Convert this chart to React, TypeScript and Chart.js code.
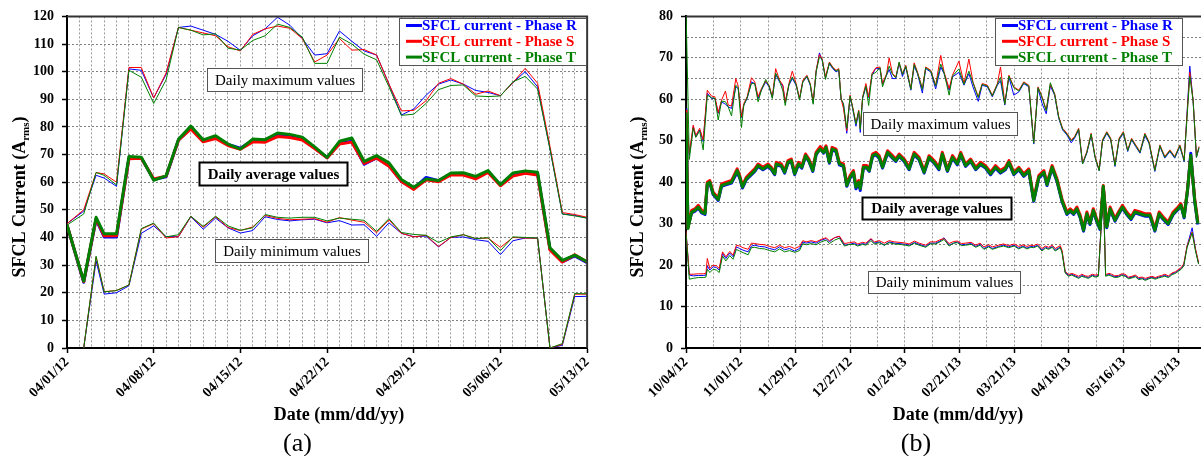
import React, { useEffect, useRef } from 'react';
import { Chart, registerables } from 'chart.js';

Chart.register(...registerables);

const FONT = "'Liberation Serif', 'Times New Roman', serif";
const BLUE = '#0000FF';
const RED = '#FF0000';
const GREEN = '#008000';

const legendLabels = ['SFCL current - Phase R', 'SFCL current - Phase S', 'SFCL current - Phase T'];
const legendColors = [BLUE, RED, GREEN];

// ---------------- Panel (a): 04/01/12 - 05/13/12 (x = days since 04/01/12)
const tickLabelsA = ['04/01/12', '04/08/12', '04/15/12', '04/22/12', '04/29/12', '05/06/12', '05/13/12'];
const daysA = [0, 1.35, 2.35, 3, 4, 5, 6, 7, 8, 9, 10, 11, 12, 13, 14, 15, 16, 17, 18, 19, 20, 21, 22, 23, 24, 25, 26, 27, 28, 29, 30, 31, 32, 33, 34, 35, 36, 37, 38, 39, 40, 41, 42];
const maxRA = [45, 49.5, 62.5, 61.5, 58.5, 101, 100.5, 90.5, 99, 116, 116.5, 115, 113.5, 111, 107.7, 113, 115.5, 119.7, 116.8, 112, 106, 106.5, 114.7, 111, 107.5, 106, 95.5, 84.3, 86.5, 91.5, 95.5, 97, 95.5, 93.2, 92.5, 91.3, 96, 100, 94.5, 72, 48.5, 48, 47];
const maxSA = [45, 50, 63.5, 63, 60, 101.5, 101.5, 90.5, 99.5, 116, 115, 114, 113, 109, 107.5, 113.5, 115.5, 116.5, 115.7, 112, 103.5, 106, 112, 107.8, 108, 106, 95.5, 85.8, 86, 89.5, 95.8, 97.5, 95.5, 91.8, 93, 91.3, 96, 101.2, 95.8, 73, 49, 48.3, 47.3];
const maxTA = [44.5, 48.5, 63.5, 62.5, 59, 100.5, 98, 88.5, 97, 116, 115, 113.3, 113.7, 108.5, 107.8, 111.3, 113, 117.2, 116, 112.5, 103, 103, 112.5, 110, 106.3, 104.3, 94.5, 84.2, 84.6, 88.5, 93.5, 95, 95.2, 91.2, 91, 91.2, 96.3, 98.3, 93.7, 72, 48.5, 47.8, 47];
const avgRA = [44.5, 23.8, 46.5, 40.2, 40.2, 68.7, 68.8, 61, 62, 75.3, 79.5, 75, 76.3, 73.7, 72.3, 75.2, 75.2, 77.3, 76.8, 75.8, 72.4, 68.9, 74, 74.8, 66.5, 68.8, 66, 60.3, 57.8, 61.7, 60.5, 63, 63, 61.6, 63.8, 59, 62.6, 63.6, 63, 35.8, 31.2, 33.3, 30.9];
const avgSA = [44.5, 24, 46.8, 40.6, 40.6, 68.5, 68.7, 61.2, 62.2, 75.2, 79.3, 74.6, 75.8, 73.3, 71.9, 74.6, 74.5, 76.5, 76.2, 75.3, 72.2, 68.8, 73.8, 74.5, 66.8, 68.8, 65.8, 60.3, 57.4, 60.9, 60.2, 62.6, 62.6, 61.2, 63.5, 58.7, 62.2, 63.2, 62.6, 35.5, 31.1, 33.7, 31.1];
const avgTA = [44.5, 24.2, 47.3, 41.3, 41.3, 69.3, 69, 60.7, 62.3, 75.5, 80.3, 75.3, 76.8, 73.8, 72, 75.6, 75.4, 77.8, 77.3, 76.3, 72.8, 69, 74.8, 76, 67.5, 69.6, 67, 61, 58.2, 61.2, 60.6, 63.3, 63.4, 62.1, 64.2, 59.1, 63.3, 64.1, 63.6, 36.3, 31.7, 33.6, 31.2];
const minRA = [null, 0, 31.5, 19.5, 20, 22.5, 41.5, 44.2, 40.3, 40.3, 47.5, 43, 47, 43.5, 41.6, 42.5, 47.5, 46.5, 46, 46.4, 46.6, 45.3, 46.1, 44.5, 44.6, 40.4, 45.3, 41.5, 40.3, 40.5, 36.6, 40, 40.2, 39.2, 38.6, 33.8, 38.8, 39.8, 39.8, 0, 1, 18.6, 18.7];
const minSA = [null, 0, 33, 20.4, 20.8, 22.8, 43, 45, 39.8, 40.3, 47.6, 43.7, 47.5, 43.6, 42.5, 43.8, 48, 46.9, 46.4, 46.6, 46.8, 45.5, 47.2, 46.3, 45.5, 41.7, 46.4, 41.5, 40.2, 40.8, 36.7, 40, 41, 39.6, 39.8, 36.4, 40, 39.8, 39.7, 0, 1.3, 19.5, 19.5];
const minTA = [null, 0, 33.2, 20.3, 20.8, 22.8, 43.2, 45.2, 40.2, 41, 47.7, 44, 47.7, 44.2, 42.6, 43.5, 48.3, 47.3, 47, 47.3, 47.3, 46, 47, 46.6, 46.2, 42.2, 46.8, 41.8, 41.1, 40.8, 38.2, 40.2, 41, 39.6, 39.9, 35.2, 40.2, 40, 39.8, 0, 1.6, 19.7, 19.6];

// ---------------- Panel (b): from 10/04/12 (x = days since 10/04/12)
const tickLabelsB = ['10/04/12', '11/01/12', '11/29/12', '12/27/12', '01/24/13', '02/21/13', '03/21/13', '04/18/13', '05/16/13', '06/13/13'];
const maxDaysB = [0, 1.7, 3.7, 5, 7, 8.8, 10.9, 13, 14.8, 16.5, 18.2, 20.2, 21.6, 23.3, 25.5, 26.7, 28.4, 29.6, 31.3, 33.5, 35.2, 36.9, 38.6, 40.8, 42.5, 44.2, 45.9, 47.9, 49.6, 50.8, 52.7, 54.4, 56.4, 58.1, 59.8, 61.9, 63.6, 65.1, 66.6, 68.3, 69.7, 71.4, 73.4, 75.1, 76.8, 78.2, 79.4, 80.6, 82.3, 84, 85.3, 87, 88.4, 89.2, 90.4, 92.1, 93.5, 95.2, 97.2, 99.3, 100.6, 102.7, 104, 105.7, 107.4, 109.1, 110.8, 112.5, 115.1, 116.8, 118.5, 121, 122.7, 125.3, 127.8, 130.4, 132.1, 134.7, 136.4, 139.7, 142.3, 144.8, 146.9, 149.6, 151.6, 154.3, 156.8, 159.4, 161, 163.2, 165.3, 167.8, 170.4, 172.9, 175.5, 178, 180.2, 182.3, 184.4, 186.5, 188.7, 190.8, 192.8, 195, 197.2, 198.9, 201, 203, 205.2, 207.4, 209.4, 211.5, 213.2, 215.4, 217.4, 219.6, 221.7, 223.9, 226.1, 228.1, 230.2, 232.4, 234.9, 237, 240, 242.6, 245.1, 247.7, 250.2, 252.8, 255, 257.9, 259.6, 261.3, 262.6];
const maxRB = [57.8, 46.5, 53.4, 51, 52.6, 49.8, 61.5, 60.2, 60.2, 56.6, 59.4, 58.8, 58.2, 57.8, 63, 62.6, 55.6, 58.6, 60.2, 64.2, 63.8, 60.2, 62.2, 64.2, 63, 60.4, 66, 64.2, 63.2, 59.2, 63.4, 65, 63.4, 60, 64.2, 65.4, 63.4, 59.2, 66.6, 71.2, 69.4, 65.2, 68.6, 67.4, 66.6, 67, 60, 58.8, 51.8, 60.6, 57.8, 53.5, 57, 52, 60.2, 63, 60.4, 65.8, 67.5, 67.4, 63.6, 65.8, 67.2, 65, 65, 68.6, 65.5, 67.8, 62.2, 68, 66.2, 61.5, 67.4, 66.6, 62.5, 67.8, 66.2, 62.2, 65.4, 66.5, 63.4, 66.2, 63, 59.5, 63.4, 63, 60.6, 63.4, 64.5, 58.6, 65.4, 61, 61.8, 63.8, 63, 49.2, 62.6, 59, 56.5, 63.2, 61, 55.4, 52.6, 51.4, 49.5, 50.6, 52.6, 44.4, 47, 51.4, 46, 42.8, 49.8, 51.8, 50.2, 43.8, 50.2, 51.8, 47.4, 50.2, 48.6, 47, 51.2, 49.4, 42.6, 48.6, 45.8, 47.4, 45.8, 48.6, 45, 68, 59.4, 46, 48.2];
const maxSB = [57.2, 47, 53.8, 51.3, 53, 50.2, 62.2, 60.8, 60.6, 56.8, 59.8, 62, 58.6, 58.4, 65, 63.2, 55.8, 59, 60.6, 65.2, 64.2, 60.6, 62.6, 64.4, 63.4, 60.6, 67.4, 64.6, 63.4, 59.4, 63.8, 66.8, 63.8, 60.2, 64.6, 65.8, 63.8, 59.4, 67, 70.8, 69.8, 65.4, 69, 67.8, 67, 67.4, 60.2, 57.8, 52.4, 61, 58.2, 54.2, 57.4, 53, 60.6, 63.8, 60.6, 66.2, 67.6, 67.8, 63.8, 66.2, 70, 66.2, 65.4, 68.8, 66.2, 68.2, 62.6, 68.8, 66.6, 62.6, 67.8, 67, 63.4, 70.6, 66.6, 62.6, 65.8, 69.2, 63.8, 69.7, 64.2, 60.6, 63.8, 63.4, 61, 63.8, 67.8, 59, 65.8, 63, 62.2, 64.2, 63.4, 49.6, 63, 60.6, 57.4, 63.6, 61.4, 55.8, 53, 51.8, 50.2, 51, 53, 44.6, 47.4, 51.8, 46.2, 43, 50.2, 52.2, 50.6, 44.2, 50.6, 52.2, 47.8, 50.6, 49, 47.4, 51.8, 49.8, 43, 49, 46.2, 47.8, 46.2, 49, 45.4, 66.5, 59.8, 46.2, 48.6];
const maxTB = [82, 45.5, 53, 50.8, 52.4, 47.8, 61, 60.4, 60.2, 55, 59.6, 59.4, 58.2, 56, 63.4, 62.8, 53.2, 58.6, 60.4, 63.8, 63.8, 59.4, 62.2, 64.8, 63.2, 60.2, 66.3, 64.4, 62, 58.5, 63.6, 65.4, 63.6, 59.8, 64.2, 65.6, 63.6, 58.8, 66.6, 70.2, 69.6, 64.8, 68.8, 67.6, 66.8, 67.2, 60, 59, 53, 60.8, 58, 54, 57.2, 52.8, 60.4, 63.2, 58.5, 66, 66.5, 67.6, 63, 66, 68, 66, 65.2, 69, 66, 68, 62.4, 68.4, 66.4, 62.4, 67.6, 66.8, 63.2, 68.5, 66.4, 61, 65.6, 67.3, 63.6, 66.8, 64, 60.4, 63.6, 63.2, 60.8, 63.6, 65.3, 58.8, 65.6, 62.8, 62, 64, 63.2, 49.4, 62.8, 60.4, 57.2, 64, 61.2, 55.6, 52.8, 51.6, 50, 50.8, 52.8, 44.4, 47.2, 51.6, 46, 42.8, 50, 52, 50.4, 44, 50.4, 52, 47.6, 50.4, 48.8, 47.2, 51.6, 49.6, 42.8, 48.8, 46, 47.6, 46, 48.8, 45.2, 65.5, 59.6, 46, 48.4];

const avgDaysB = [0, 1, 2.9, 4.6, 6.3, 8, 9.7, 10.9, 12.2, 13.9, 16.5, 18.2, 20.7, 23.3, 26.2, 27.5, 28.9, 30.9, 32.6, 35.2, 36.9, 39.4, 42, 43.7, 45.4, 46.2, 48.8, 50.5, 52.2, 53.9, 55.6, 57.6, 59.3, 61.2, 62.9, 64.9, 66.6, 68.7, 70.4, 71.7, 73.4, 74.8, 76.8, 78.5, 80.6, 82.3, 84, 85.7, 87, 88.4, 89.2, 90.8, 92.5, 93.8, 95.5, 97.2, 98.9, 100.6, 103.2, 105.7, 107.4, 109.1, 111.7, 114.2, 116.8, 119.3, 121.9, 124.4, 127, 129.5, 131.2, 133.8, 136.4, 138.9, 140.6, 143.1, 145.7, 148.3, 150.8, 153.3, 155.9, 158.4, 161, 163.5, 165.3, 167.8, 170.4, 172.9, 175.5, 178, 180.6, 183.2, 184.8, 187.4, 189.9, 192.5, 195, 196.7, 198.4, 200.1, 201.8, 203.5, 205.2, 206.8, 208.5, 210.2, 211.9, 213.6, 215.4, 217.1, 219.6, 221.4, 223.4, 225.6, 227.8, 229.8, 232.4, 234.9, 237.5, 240, 242.2, 244.3, 246.8, 249.4, 251.9, 253.3, 255, 256.7, 258.4, 260.4, 262];
const avgRB = [57.8, 29.2, 32.6, 33, 33.8, 32.6, 32.2, 39.4, 39.8, 37, 35.6, 39, 39.4, 39.8, 42.4, 41, 38.6, 40.6, 41.4, 42.6, 43.8, 43, 43.8, 43, 41.8, 44.2, 43.8, 42.2, 44.6, 45, 41.8, 44.2, 43.4, 46.2, 45, 42.6, 46.6, 48.2, 47, 48.2, 44.6, 47.8, 47.4, 44.2, 43.8, 39, 41, 42.2, 38.4, 39.8, 38, 43.4, 43.4, 42.6, 46.2, 46.6, 45.8, 43.4, 47, 45.8, 45, 46.2, 45, 43, 46.6, 45.4, 42.2, 45.8, 44.6, 43, 46.6, 42.6, 45.8, 44.2, 46.6, 43.8, 45, 43, 44.2, 43.4, 41.8, 43.4, 42.2, 43, 44.6, 41.8, 43, 41.4, 42.6, 35.4, 41, 42.2, 39.2, 43.4, 40.2, 35.3, 32.2, 33, 32.2, 33.4, 31.4, 28.2, 32.2, 29.8, 33, 30.6, 28.6, 38.8, 29, 33.4, 30.6, 32.2, 33.8, 32.2, 31, 32.6, 32.2, 31.8, 31.8, 28.2, 32.2, 31, 29.8, 32.2, 33.4, 34.6, 31.4, 37.8, 47, 35.4, 29.8];
const avgSB = [57.5, 29, 33.2, 33.6, 34.4, 33.2, 32.8, 40, 40.4, 37.6, 36.2, 39.6, 40, 40.4, 43.2, 41.6, 39.2, 41.2, 42, 43.2, 44.4, 43.6, 44.4, 43.6, 42.4, 44.8, 44.4, 42.8, 45.2, 45.6, 42.4, 44.8, 44, 46.8, 45.6, 43.2, 47.2, 48.6, 47.6, 48.8, 45.2, 48.4, 48, 44.8, 44.4, 39.6, 41.6, 42.8, 39.2, 40.4, 38.8, 44, 44, 43.2, 46.8, 47.2, 46.4, 44, 47.6, 46.4, 45.6, 46.8, 45.6, 43.6, 47.2, 46, 42.8, 46.4, 45.2, 43.6, 47.2, 43.2, 46.4, 44.8, 47.2, 44.4, 45.6, 43.6, 44.8, 44, 42.4, 44, 42.8, 43.6, 45.2, 42.4, 43.6, 42, 43.2, 36, 41.6, 42.8, 39.8, 44, 40.8, 35.9, 32.8, 33.6, 32.8, 34, 32, 28.8, 32.8, 30.4, 33.6, 31.2, 29.2, 39.2, 29.6, 34, 31.2, 32.8, 34.4, 32.8, 31.6, 33.2, 32.8, 32.4, 32.4, 28.8, 32.8, 31.6, 30.4, 32.8, 34, 34.8, 32, 38.2, 46.2, 36, 30.4];
const avgTB = [56.8, 28.8, 32.8, 33.2, 34, 32.8, 32.4, 39.6, 40, 37.2, 35.8, 39.2, 39.6, 40, 42.8, 41.2, 38.8, 40.8, 41.6, 42.8, 44, 43.2, 44, 43.2, 42, 44.4, 44, 42.4, 44.8, 45.2, 42, 44.4, 43.6, 46.4, 45.2, 42.8, 46.8, 48, 47.2, 48.4, 44.8, 48, 47.6, 44.4, 44, 39.2, 41.2, 42.4, 38.8, 40, 38.4, 43.6, 43.6, 42.8, 46.4, 46.8, 46, 43.6, 47.2, 46, 45.2, 46.4, 45.2, 43.2, 46.8, 45.6, 42.4, 46, 44.8, 43.2, 46.8, 42.8, 46, 44.4, 46.8, 44, 45.2, 43.2, 44.4, 43.6, 42, 43.6, 42.4, 43.2, 44.8, 42, 43.2, 41.6, 42.8, 35.6, 41.2, 42.4, 39.4, 43.6, 40.4, 35.5, 32.4, 33.2, 32.4, 33.6, 31.6, 28.4, 32.4, 30, 33.2, 30.8, 28.8, 39, 29.2, 33.6, 30.8, 32.4, 34, 32.4, 31.2, 32.8, 32.4, 32, 32, 28.4, 32.4, 31.2, 30, 32.4, 33.6, 34.4, 31.6, 38, 46.5, 35.6, 30];

const minDaysB = [0, 1.7, 3.7, 6.3, 8.8, 10.2, 10.9, 12.2, 13.9, 15.6, 17, 18.7, 20.4, 22.4, 24.1, 25.8, 27.5, 29.2, 31.8, 33.5, 35.2, 37.7, 40.3, 42.8, 45.4, 47.9, 50.5, 53, 55.6, 58.1, 59.8, 61.5, 64.1, 66.6, 69.2, 71.7, 73.4, 76, 78.5, 81.1, 83.6, 86.2, 87.9, 90.4, 92.1, 94.7, 96.4, 98.9, 101.5, 104, 106.6, 109.1, 112.5, 114.2, 117, 119.3, 122.7, 125, 127.8, 130, 132.1, 134.7, 137, 138.9, 141, 143.1, 146, 148.3, 150.5, 152.5, 155, 156.8, 160, 162.5, 165.2, 168, 170.3, 172.5, 174.5, 176.5, 178, 180, 182.2, 184, 185.6, 187.5, 189, 191.6, 192.5, 194.1, 195.8, 197.5, 199.2, 201, 202.6, 204.5, 206, 208, 209.4, 211.1, 213.6, 214.8, 216.5, 217.9, 219.5, 221.4, 223, 224.8, 226.5, 228.3, 230, 231.7, 233.5, 235.1, 237, 238.5, 240.2, 241.9, 243.5, 245.1, 247, 248.8, 250.5, 252.3, 253.5, 254.8, 256.5, 259.1, 260.8, 262.4];
const minRB = [28, 17.6, 17.4, 17.5, 17.5, 17.6, 19.8, 18.8, 19.6, 19.4, 18.8, 22.8, 21.6, 22.9, 22, 24.4, 24, 23.6, 23.2, 24.6, 24.8, 24.5, 24.4, 24, 23.7, 24.4, 23.7, 24, 23.4, 24, 25.6, 25.3, 25.6, 25.3, 26, 26.4, 25.6, 26.6, 26.9, 24.8, 25, 25.3, 24.8, 25.2, 25, 26.3, 25.3, 25.6, 24.8, 25.6, 25.3, 25.2, 25, 24.8, 25.5, 25, 24.5, 25.3, 25.3, 25.8, 26.6, 24.8, 25.3, 25.6, 24.9, 25, 25.2, 24.5, 25, 24, 24.6, 24, 24.5, 24.8, 24.4, 24.8, 24.1, 24.6, 24.1, 24.5, 24.4, 24.8, 23.6, 24.3, 24, 24.5, 23.6, 24.4, 23.2, 18.3, 17.5, 17.8, 17.4, 17, 17.5, 17.2, 17, 17.6, 17.3, 17.5, 38.5, 17.5, 17.8, 17.5, 17.2, 17.3, 17.7, 17.5, 16.9, 17.1, 17.4, 16.7, 16.9, 16.5, 16.9, 17.1, 16.8, 17.1, 17.3, 17.5, 17.2, 17.9, 18.2, 18.8, 19.2, 20, 24.6, 29, 23.8, 20.4];
const minSB = [28.2, 17.8, 17.8, 17.9, 17.9, 18, 21.6, 19.2, 20, 19.8, 19.2, 23.2, 22, 23.3, 22.4, 24.8, 24.6, 24.2, 23.8, 25.3, 25.2, 25, 24.9, 24.5, 24.2, 24.8, 24.2, 24.5, 24, 24.5, 25.9, 25.6, 25.9, 25.6, 26.2, 26.6, 25.9, 26.6, 27, 25.2, 25.4, 25.6, 25.1, 25.5, 25.3, 26.4, 25.6, 25.9, 25.3, 25.9, 25.6, 25.5, 25.3, 25.1, 25.8, 25.3, 24.8, 25.6, 25.6, 26.1, 26.4, 25.2, 25.7, 25.8, 25.2, 25.3, 25.5, 24.8, 25.3, 24.4, 24.9, 24.4, 24.8, 25.1, 24.7, 25.1, 24.5, 24.9, 24.5, 24.8, 24.7, 25.1, 24, 24.6, 24.3, 24.8, 24, 24.7, 23.5, 18.5, 17.7, 18, 17.7, 17.3, 17.8, 17.4, 17.3, 17.8, 17.6, 17.7, 38.5, 17.7, 18, 17.8, 17.4, 17.5, 17.9, 17.8, 17.1, 17.3, 17.6, 17, 17.1, 16.8, 17.1, 17.3, 17, 17.3, 17.5, 17.8, 17.4, 18.1, 18.4, 19, 19.4, 20.3, 24.6, 28, 23.9, 20.6];
const minTB = [27.8, 16.6, 16.8, 17, 17, 17.1, 19, 18.2, 19, 18.8, 18.2, 22.2, 21, 22.3, 21.4, 23.8, 23.4, 23, 22.5, 24.2, 24.3, 24, 23.9, 23.5, 23.2, 23.9, 23.2, 23.5, 23.1, 23.5, 25.2, 24.9, 25.2, 24.9, 25.6, 26, 25.2, 26, 26.5, 24.6, 25, 25, 24.6, 25, 24.8, 25.9, 25.1, 25.4, 24.8, 25.4, 25.1, 25, 24.8, 24.6, 25.3, 24.8, 24.3, 25.1, 25.1, 25.6, 26.2, 24.6, 25.3, 25.4, 24.7, 24.8, 25, 24.3, 24.8, 23.8, 24.4, 23.8, 24.3, 24.6, 24.2, 24.6, 23.9, 24.4, 23.9, 24.3, 24.2, 24.6, 23.4, 24.1, 23.8, 24.3, 23.4, 24.2, 23, 18.1, 17.3, 17.6, 17.2, 16.8, 17.3, 17, 16.8, 17.4, 17.1, 17.3, 38.5, 17.3, 17.6, 17.3, 17, 17.1, 17.5, 17.3, 16.7, 16.9, 17.2, 16.5, 16.7, 16.3, 16.7, 16.9, 16.6, 16.9, 17.1, 17.3, 17, 17.7, 18, 18.6, 19, 19.8, 24.2, 27.8, 23.4, 20.2];

// ---------------- helpers
type Box = { x: number; y: number; w: number; h: number; text: string; bold: boolean };
type Decor = {
  yTitleX: number; yTitleY: number; xTitleX: number; xTitleY: number;
  panel: string; panelX: number; panelY: number;
  legend: { x: number; y: number; w: number; h: number };
  boxes: Box[];
};

function makeDecor(d: Decor) {
  return {
    id: 'decor',
    afterDraw(chart: any) {
      const ctx: CanvasRenderingContext2D = chart.ctx;
      const ca = chart.chartArea;
      ctx.save();
      // top and right frame
      ctx.strokeStyle = '#333';
      ctx.lineWidth = 2;
      ctx.beginPath();
      ctx.moveTo(ca.left, ca.top);
      ctx.lineTo(ca.right, ca.top);
      ctx.lineTo(ca.right, ca.bottom);
      ctx.stroke();

      // y-axis title with subscript
      ctx.save();
      ctx.translate(d.yTitleX, d.yTitleY);
      ctx.rotate(-Math.PI / 2);
      const main = 'SFCL Current (A';
      const sub = 'rms';
      const close = ')';
      ctx.font = `bold 18px ${FONT}`;
      const w1 = ctx.measureText(main).width;
      const w3 = ctx.measureText(close).width;
      ctx.font = `bold 11px ${FONT}`;
      const w2 = ctx.measureText(sub).width;
      let x = -(w1 + w2 + w3) / 2;
      ctx.fillStyle = '#000';
      ctx.textAlign = 'left';
      ctx.textBaseline = 'alphabetic';
      ctx.font = `bold 18px ${FONT}`;
      ctx.fillText(main, x, 0);
      x += w1;
      ctx.font = `bold 11px ${FONT}`;
      ctx.fillText(sub, x, 4);
      x += w2;
      ctx.font = `bold 18px ${FONT}`;
      ctx.fillText(close, x, 0);
      ctx.restore();

      // x-axis title
      ctx.fillStyle = '#000';
      ctx.textAlign = 'center';
      ctx.textBaseline = 'alphabetic';
      ctx.font = `bold 18px ${FONT}`;
      ctx.fillText('Date (mm/dd/yy)', d.xTitleX, d.xTitleY);
      // panel label
      ctx.font = `26px ${FONT}`;
      ctx.fillText(d.panel, d.panelX, d.panelY);

      // legend
      const L = d.legend;
      ctx.fillStyle = '#fff';
      ctx.fillRect(L.x, L.y, L.w, L.h);
      ctx.strokeStyle = '#555';
      ctx.lineWidth = 1;
      ctx.strokeRect(L.x + 0.5, L.y + 0.5, L.w, L.h);
      legendLabels.forEach((t, i) => {
        const yy = L.y + 7.5 + i * 15.8;
        ctx.strokeStyle = legendColors[i];
        ctx.lineWidth = 3;
        ctx.beginPath();
        ctx.moveTo(L.x + 7, yy);
        ctx.lineTo(L.x + 23, yy);
        ctx.stroke();
        ctx.fillStyle = legendColors[i];
        ctx.font = `bold 15px ${FONT}`;
        ctx.textAlign = 'left';
        ctx.textBaseline = 'middle';
        ctx.fillText(t, L.x + 23, yy + 1);
      });

      // annotation boxes
      d.boxes.forEach((b) => {
        ctx.fillStyle = '#fff';
        ctx.fillRect(b.x, b.y, b.w, b.h);
        ctx.strokeStyle = b.bold ? '#000' : '#555';
        ctx.lineWidth = b.bold ? 2 : 1;
        ctx.strokeRect(b.x + 0.5, b.y + 0.5, b.w, b.h);
        ctx.fillStyle = '#000';
        ctx.font = `${b.bold ? 'bold ' : ''}15px ${FONT}`;
        ctx.textAlign = 'center';
        ctx.textBaseline = 'middle';
        ctx.fillText(b.text, b.x + b.w / 2 + 0.5, b.y + b.h / 2 + 1.5);
      });
      ctx.restore();
    },
  };
}

const pts = (xs: number[], ys: (number | null)[]) => xs.map((x, i) => ({ x, y: ys[i] }));

function line(xs: number[], ys: (number | null)[], color: string, width: number, order: number) {
  return {
    data: pts(xs, ys),
    borderColor: color,
    backgroundColor: color,
    borderWidth: width,
    pointRadius: 0,
    pointHoverRadius: 0,
    tension: 0,
    fill: false,
    spanGaps: false,
    order,
    borderJoinStyle: 'round',
    borderCapStyle: 'butt',
  };
}

const tickFont = { family: FONT, size: 14, weight: 'bold' as const };

function baseOptions(xMax: number, xStep: number, labelEvery: number, xLabels: string[], yMax: number, yStep: number, yLabelEvery: number, yWidth: number, rightPad: number) {
  return {
    responsive: false,
    animation: false,
    devicePixelRatio: 1,
    events: [],
    layout: { padding: { top: 15, right: rightPad, left: 0, bottom: 0 }, autoPadding: false },
    plugins: { legend: { display: false }, tooltip: { enabled: false }, title: { display: false } },
    scales: {
      x: {
        type: 'linear',
        min: 0,
        max: xMax,
        afterFit: (s: any) => { s.height = 108; },
        ticks: {
          stepSize: xStep,
          autoSkip: false,
          minRotation: 45,
          maxRotation: 45,
          padding: 1,
          color: '#000',
          font: tickFont,
          callback: (v: number) => (v % labelEvery === 0 && v / labelEvery < xLabels.length ? xLabels[v / labelEvery] : ''),
        },
        grid: {
          color: '#9a9a9a',
          lineWidth: 1,
          tickLength: 5,
          tickWidth: 1.5,
          tickColor: (c: any) => (c.tick && c.tick.value % labelEvery === 0 ? '#000' : 'rgba(0,0,0,0)'),
        },
        border: { display: true, color: '#000', width: 2, dash: [2, 2] },
      },
      y: {
        type: 'linear',
        min: 0,
        max: yMax,
        afterFit: (s: any) => { s.width = yWidth; },
        ticks: {
          stepSize: yStep,
          autoSkip: false,
          padding: 8,
          color: '#000',
          font: tickFont,
          callback: (v: number) => (v % yLabelEvery === 0 ? String(v) : ''),
        },
        grid: {
          color: '#808080',
          lineWidth: 1,
          tickLength: 5,
          tickWidth: 1.5,
          tickColor: (c: any) => (c.tick && c.tick.value % yLabelEvery === 0 ? '#000' : 'rgba(0,0,0,0)'),
        },
        border: { display: true, color: '#000', width: 2, dash: [2, 2] },
      },
    },
  };
}

function configA(): any {
  return {
    type: 'line',
    data: {
      datasets: [
        line(daysA, maxRA, BLUE, 1, 2),
        line(daysA, maxSA, RED, 1, 1),
        line(daysA, maxTA, GREEN, 1, 0),
        line(daysA, avgRA, BLUE, 3, 2),
        line(daysA, avgSA, RED, 3, 1),
        line(daysA, avgTA, GREEN, 3, 0),
        line(daysA, minRA, BLUE, 1, 2),
        line(daysA, minSA, RED, 1, 1),
        line(daysA, minTA, GREEN, 1, 0),
      ],
    },
    options: baseOptions(42, 1, 7, tickLabelsA, 120, 10, 10, 67, 11),
    plugins: [
      makeDecor({
        yTitleX: 25, yTitleY: 197, xTitleX: 339, xTitleY: 420,
        panel: '(a)', panelX: 297.5, panelY: 451,
        legend: { x: 399, y: 18, w: 187, h: 47 },
        boxes: [
          { x: 207, y: 68, w: 155, h: 23, text: 'Daily maximum values', bold: false },
          { x: 199, y: 162, w: 148, h: 23, text: 'Daily average values', bold: true },
          { x: 215, y: 239, w: 153, h: 23, text: 'Daily minimum values', bold: false },
        ],
      }),
    ],
  };
}

function configB(): any {
  return {
    type: 'line',
    data: {
      datasets: [
        line(maxDaysB, maxRB, BLUE, 1, 2),
        line(maxDaysB, maxSB, RED, 1, 1),
        line(maxDaysB, maxTB, GREEN, 1, 0),
        line(avgDaysB, avgRB, BLUE, 3, 2),
        line(avgDaysB, avgSB, RED, 3, 1),
        line(avgDaysB, avgTB, GREEN, 3, 0),
        line(minDaysB, minRB, BLUE, 1, 2),
        line(minDaysB, minSB, RED, 1, 1),
        line(minDaysB, minTB, GREEN, 1, 0),
      ],
    },
    options: baseOptions(277, 14, 28, tickLabelsB, 80, 5, 10, 86, 11),
    plugins: [
      makeDecor({
        yTitleX: 43, yTitleY: 197, xTitleX: 358, xTitleY: 420,
        panel: '(b)', panelX: 316, panelY: 451,
        legend: { x: 395, y: 18, w: 187, h: 47 },
        boxes: [
          { x: 263, y: 112, w: 154, h: 23, text: 'Daily maximum values', bold: false },
          { x: 262, y: 197, w: 149, h: 22, text: 'Daily average values', bold: true },
          { x: 268, y: 271, w: 152, h: 22, text: 'Daily minimum values', bold: false },
        ],
      }),
    ],
  };
}

Chart.defaults.font.family = FONT;

export default function App() {
  const refA = useRef<HTMLCanvasElement>(null);
  const refB = useRef<HTMLCanvasElement>(null);
  useEffect(() => {
    const a = new Chart(refA.current as HTMLCanvasElement, configA());
    const b = new Chart(refB.current as HTMLCanvasElement, configB());
    return () => {
      a.destroy();
      b.destroy();
    };
  }, []);
  return (
    <div style={{ position: 'absolute', left: 0, top: 0, width: 1201, height: 456, overflow: 'hidden', background: '#fff' }}>
      <canvas ref={refA} width={600} height={456} style={{ position: 'absolute', left: 0, top: 0, width: 600, height: 456 }} />
      <canvas ref={refB} width={640} height={456} style={{ position: 'absolute', left: 600, top: 0, width: 640, height: 456 }} />
    </div>
  );
}
